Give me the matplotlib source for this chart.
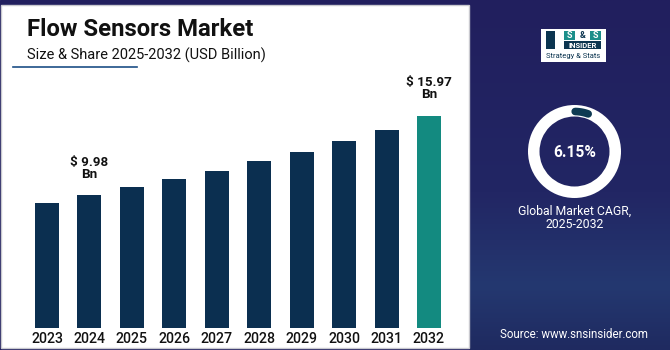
import numpy as np
import matplotlib.pyplot as plt
from matplotlib.patches import Rectangle, Wedge

plt.rcParams['font.family'] = ['Roboto', 'DejaVu Sans']

# Data ======================================================================
years = ['2023', '2024', '2025', '2026', '2027', '2028', '2029', '2030', '2031', '2032']
values = [9.45, 9.98, 10.6, 11.2, 11.85, 12.55, 13.25, 14.05, 14.9, 15.97]
labels = {1: '$ 9.98\nBn', 9: '$ 15.97\nBn'}
cagr = '6.15%'

W, H = 670, 350
navy = '#211f5e'
bar_dark = '#0b2f50'
bar_teal = '#138a80'

fig = plt.figure(figsize=(W / 100, H / 100), dpi=100)

# background in pixel coords (y down)
bg = fig.add_axes([0, 0, 1, 1])
bg.set_xlim(0, W); bg.set_ylim(H, 0); bg.axis('off')
bg.add_patch(Rectangle((0, 0), W, H, color=navy, zorder=0))

# right panel gradient
grad_cols = np.array([[0x21, 0x1f, 0x5e], [0x22, 0x26, 0x64], [0x24, 0x38, 0x70], [0x1f, 0x2a, 0x60]]) / 255
stops = np.array([0.0, 0.55, 0.82, 1.0])
yy = np.linspace(0, 1, 200)
img = np.stack([np.interp(yy, stops, grad_cols[:, c]) for c in range(3)], axis=1)[:, None, :]
bg.imshow(img, extent=(470, W, H, 0), aspect='auto', zorder=1)

# white panel
bg.add_patch(Rectangle((1, 5), 468, 343, facecolor='white', edgecolor='#c9c9cf', lw=1, zorder=2))

# title
bg.text(27, 30, 'Flow Sensors Market', fontsize=17.2, fontweight='bold', color='#111111', va='center', zorder=3)
bg.text(27, 55, 'Size & Share 2025-2032 (USD Billion)', fontsize=10.5, color='#111111', va='center', zorder=3)
bg.plot([13, 137], [67, 67], color='#1d4f86', lw=1.2, zorder=3)

# logo
bg.add_patch(Rectangle((541, 29), 65, 33, facecolor='white', edgecolor='none', zorder=3))
bg.add_patch(Rectangle((546, 31), 9, 18, facecolor='#0c3550', zorder=4))
bg.add_patch(Rectangle((564, 31), 11, 9, facecolor='#1b8f8a', zorder=4))
bg.add_patch(Rectangle((590, 31), 11, 9, facecolor='#1b8f8a', zorder=4))
bg.text(569.5, 35.5, 'S', fontsize=6.5, fontweight='bold', color='white', ha='center', va='center', zorder=5)
bg.text(582.5, 35.5, '&', fontsize=6.5, fontweight='bold', color='#0c3550', ha='center', va='center', zorder=5)
bg.text(595.5, 35.5, 'S', fontsize=6.5, fontweight='bold', color='white', ha='center', va='center', zorder=5)
bg.add_patch(Rectangle((564, 41), 37, 8, facecolor='#0c3550', zorder=4))
bg.text(582.5, 45, 'INSIDER', fontsize=5.5, fontweight='bold', color='white', ha='center', va='center', zorder=5)
bg.text(573.5, 56, 'Strategy & Stats', fontsize=5.5, color='#0c3550', ha='center', va='center', zorder=5)

# donut
cx, cy = 574.5, 151.5
bg.add_patch(Wedge((cx, cy), 46.5, 0, 360, width=11.5, facecolor='white', edgecolor='none', zorder=3))
th = np.radians(np.linspace(70, 89, 30))
bg.plot(cx + 40 * np.cos(th), cy - 40 * np.sin(th), color='#0e3a52', lw=5.5,
        solid_capstyle='round', zorder=4)
bg.text(cx, cy + 1, cagr, fontsize=11.2, fontweight='bold', color='white', ha='center', va='center', zorder=4)
bg.text(cx, 218, 'Global Market CAGR,\n2025-2032', fontsize=8.8, color='white', ha='center', va='center',
        linespacing=1.0, zorder=4)
bg.text(cx, 334, 'Source: www.snsinsider.com', fontsize=8.3, color='white', ha='center', va='center', zorder=4)

# bars ======================================================================
x0, x1 = 47 - 21.2, 429 + 21.2
ybot, ytop = 328, 89
ax = fig.add_axes([x0 / W, (H - ybot) / H, (x1 - x0) / W, (ybot - ytop) / H])
ax.set_xlim(-0.5, len(years) - 0.5)
ax.set_ylim(0, 18)
ax.patch.set_alpha(0)
ax.axis('off')

x = np.arange(len(years))
cols = [bar_dark] * (len(years) - 1) + [bar_teal]
ax.bar(x, values, width=0.566, color=cols)
for i, yr in enumerate(years):
    ax.text(i, -0.8, yr, fontsize=10.2, fontweight='medium', color='#111111', ha='center', va='center')
for i, txt in labels.items():
    ax.text(i, values[i] + 1.1, txt, fontsize=9.6, fontweight='bold', color='#111111', ha='center', va='bottom',
            linespacing=0.9)

fig.savefig('out.png', dpi=100)
